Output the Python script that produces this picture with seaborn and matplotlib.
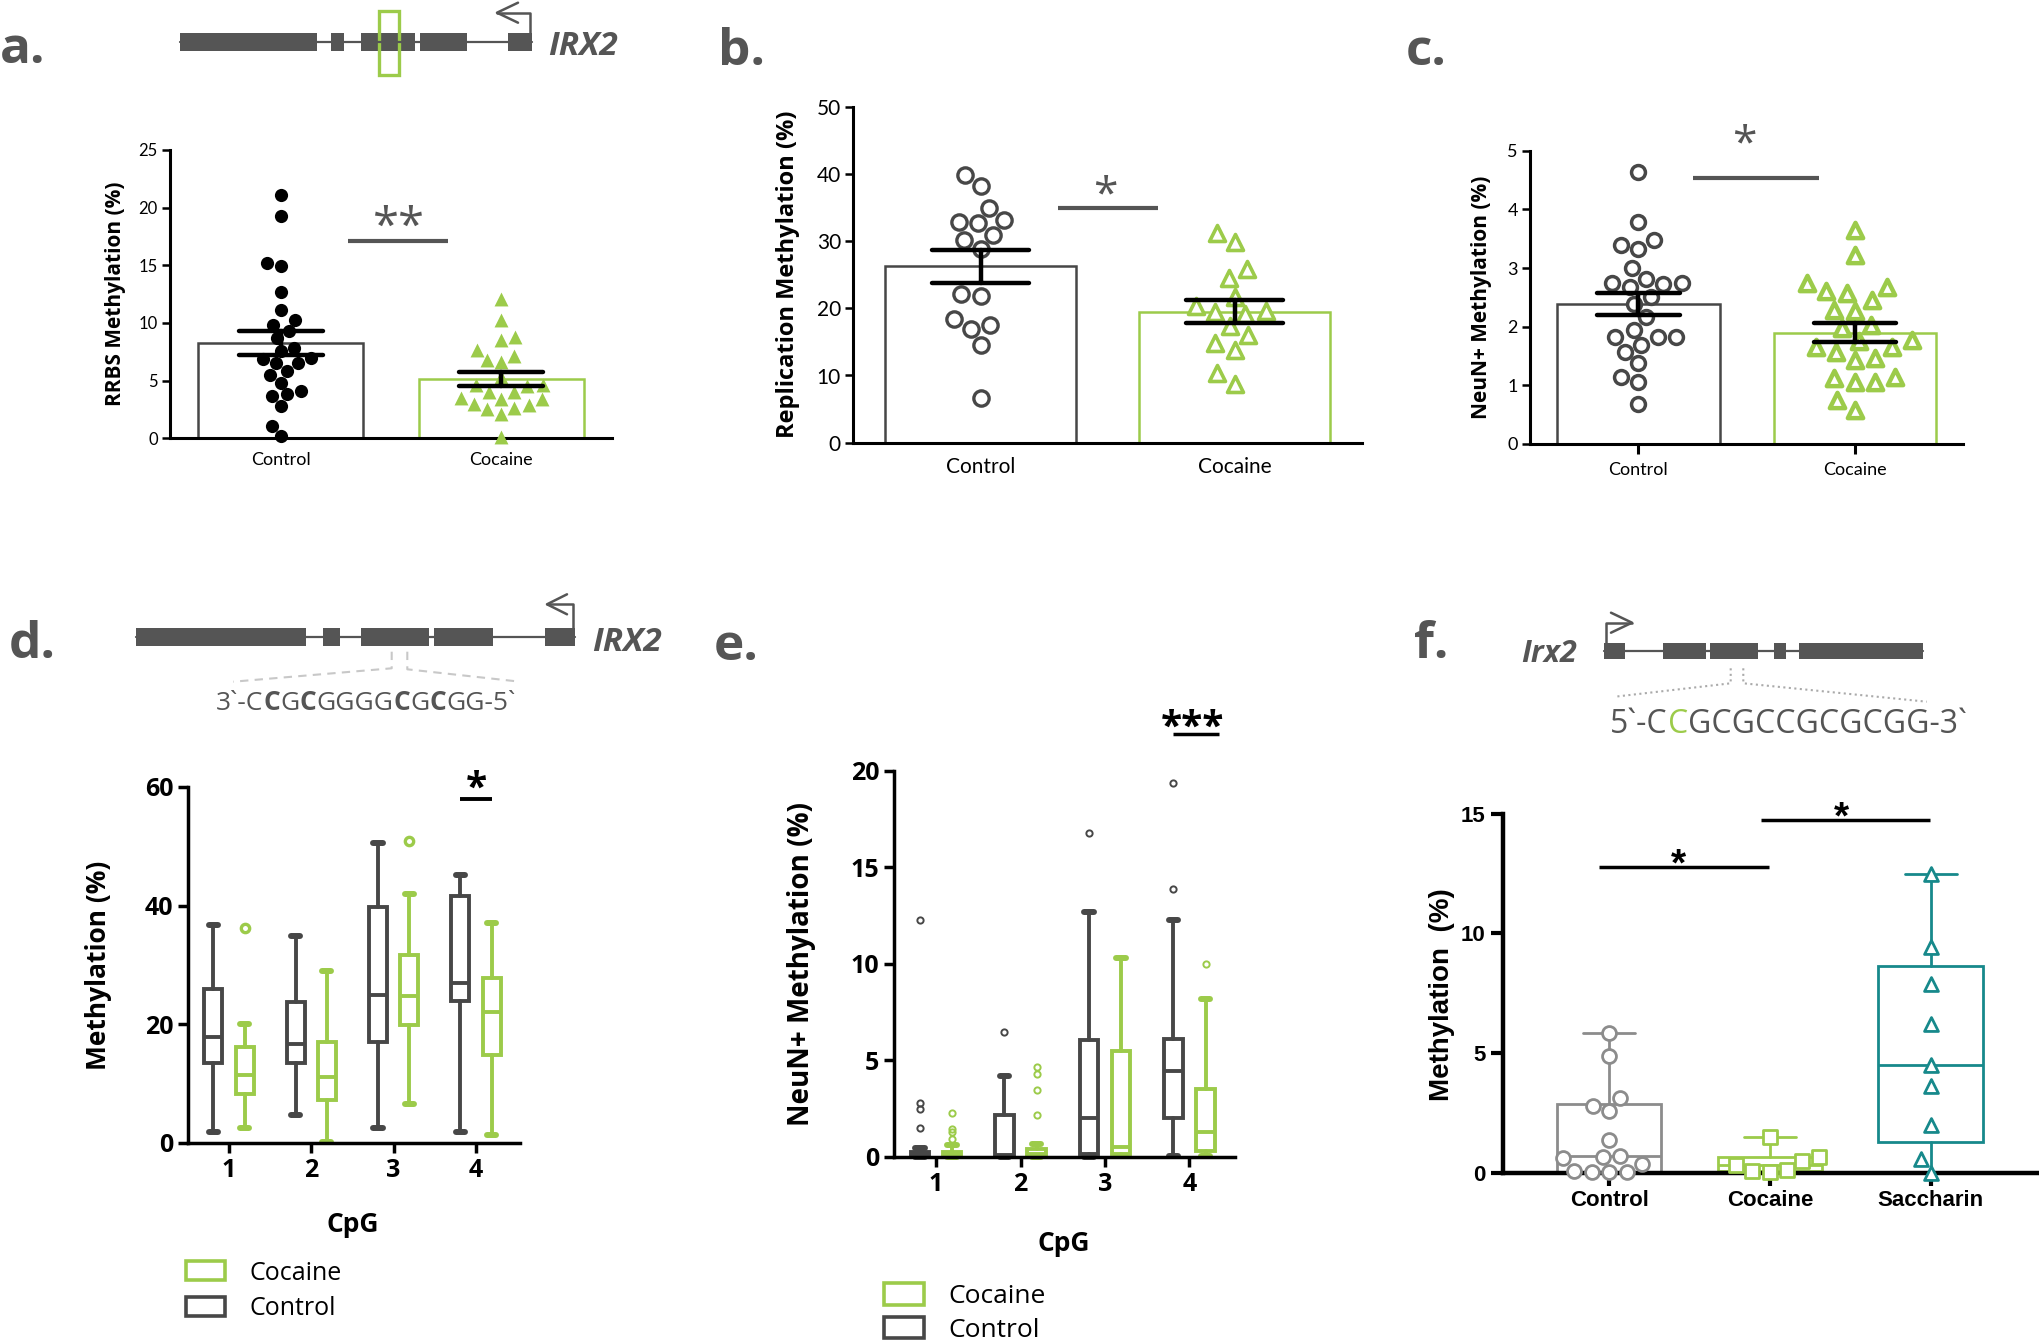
"""
IRX2 methylation figure, panels a-f, redrawn with seaborn
"""

import numpy as np
import pandas as pd
import seaborn as sns
import matplotlib.pyplot as plt
from matplotlib.patches import Rectangle, Patch
from matplotlib.transforms import offset_copy

# ---------------- data ----------------
groups = ["Control", "Cocaine"]

# a. RRBS methylation (%)
rrbs_control = [21.1, 19.3, 15.2, 14.9, 12.7, 11.1, 10.3, 9.8, 9.3, 8.7, 7.8, 7.6, 7.0,
                6.9, 6.5, 6.5, 5.8, 5.5, 4.8, 4.1, 3.8, 3.7, 2.8, 1.1, 0.2]
rrbs_cocaine = [12.1, 10.3, 8.8, 8.5, 7.7, 7.1, 6.8, 6.6, 5.3, 4.6, 4.5, 4.6, 4.0, 4.0,
                3.5, 3.4, 3.4, 2.9, 3.0, 2.6, 2.5, 2.1, 0.1]

# b. replication methylation (%)
rep_control = [39.8, 38.2, 35.0, 32.9, 32.7, 33.2, 30.9, 30.2, 28.8, 21.8, 22.2, 18.4,
               17.5, 16.9, 14.5, 6.6]
rep_cocaine = [31.2, 29.8, 25.9, 24.5, 21.7, 20.3, 19.6, 19.4, 19.2, 17.3, 16.0, 14.8,
               13.8, 10.3, 8.7]

# c. NeuN+ methylation (%)
neun_control = [4.63, 3.79, 3.48, 3.39, 3.32, 3.00, 2.82, 2.75, 2.74, 2.72, 2.68, 2.51,
                2.39, 2.17, 1.95, 1.83, 1.82, 1.82, 1.68, 1.57, 1.38, 1.15, 1.06, 0.68]
neun_cocaine = [3.65, 3.23, 2.74, 2.68, 2.60, 2.57, 2.45, 2.28, 2.26, 2.03, 1.97, 1.77,
                1.76, 1.66, 1.66, 1.57, 1.46, 1.43, 1.12, 1.15, 1.06, 1.05, 0.75, 0.58]

# d./e. box summaries per CpG: [low whisker, Q1, median, Q3, high whisker]
cpg_sites = [1, 2, 3, 4]
d_control_box = [[1.8, 13.5, 17.8, 26.0, 36.8], [4.8, 13.4, 16.7, 23.8, 34.8],
                 [2.5, 17.0, 25.0, 39.7, 50.6], [1.8, 23.9, 27.0, 41.6, 45.1]]
d_cocaine_box = [[2.6, 8.2, 11.4, 16.1, 20.1], [0.2, 7.3, 11.2, 17.0, 29.0],
                 [6.5, 19.8, 24.8, 31.6, 42.0], [1.4, 14.9, 22.0, 27.8, 37.0]]
d_control_out = [[], [], [], []]
d_cocaine_out = [[36.2], [], [50.8], []]

e_control_box = [[0.0, 0.02, 0.08, 0.25, 0.45], [0.0, 0.05, 0.1, 2.2, 4.2],
                 [0.0, 0.15, 2.0, 6.05, 12.7], [0.05, 2.0, 4.45, 6.1, 12.3]]
e_cocaine_box = [[0.0, 0.02, 0.1, 0.28, 0.6], [0.0, 0.05, 0.15, 0.4, 0.65],
                 [0.05, 0.18, 0.5, 5.5, 10.3], [0.05, 0.3, 1.3, 3.5, 8.2]]
e_control_out = [[12.3, 2.8, 2.5, 1.5], [6.5], [16.8], [19.35, 13.9]]
e_cocaine_out = [[2.3, 1.45, 1.3, 0.95], [4.65, 4.3, 3.45, 2.15], [], [10.0]]

# f. mouse Irx2 methylation (%)
f_groups = ["Control", "Cocaine", "Saccharin"]
f_control = [5.85, 4.88, 3.11, 2.8, 2.56, 1.38, 0.71, 0.67, 0.61, 0.37, 0.06, 0.02, 0.02, 0.02]
f_cocaine = [1.5, 0.65, 0.5, 0.32, 0.12, 0.07, 0.05]
f_saccharin = [12.46, 9.41, 7.89, 6.22, 4.49, 3.62, 1.99, 0.57, 0.0]

# ---------------- style ----------------
CTRL = "#474747"
DARK = "#555555"
GREEN = "#9ccb4a"
LGRAY = "#8c8c8c"
TEAL = "#17898b"

sns.set_theme(style="ticks")
plt.rcParams["font.family"] = ["Open Sans", "DejaVu Sans"]
for key in ["axes.edgecolor", "xtick.color", "ytick.color", "text.color", "axes.labelcolor"]:
    plt.rcParams[key] = "black"

W, H = 2040, 1343
fig = plt.figure(figsize=(W / 100, H / 100), dpi=100)


def px_axes(x0, y_top, x1, y_bottom):
    """Axes placed by pixel box (origin top-left)"""
    ax = fig.add_axes([x0 / W, 1 - y_bottom / H, (x1 - x0) / W, (y_bottom - y_top) / H])
    ax.set_facecolor("none")
    return ax


def sig(ax, x0, x1, y_line, x_star, y_star, text, size, color, family="Open Sans",
        weight="normal", lw=2.8):
    ax.plot([x0, x1], [y_line, y_line], color=color, lw=lw, clip_on=False,
            solid_capstyle="butt")
    tr = offset_copy(ax.transData, fig=fig, y=-0.58 * size, units="points")
    ax.text(x_star, y_star, text, transform=tr, ha="center", va="baseline",
            fontsize=size, color=color, family=family, fontweight=weight)


def bar_panel(ax, ctrl, coc, ctrl_kw, coc_kw, ymax, ystep, ytick_size, xtick_size):
    df = pd.DataFrame({"group": ["Control"] * len(ctrl) + ["Cocaine"] * len(coc),
                       "value": ctrl + coc})
    sns.barplot(data=df, x="group", y="value", hue="group", order=groups, hue_order=groups,
                palette={"Control": CTRL, "Cocaine": GREEN}, fill=False, linewidth=1.8,
                width=0.75, errorbar="se", capsize=0.38,
                err_kws={"color": "black", "linewidth": 3.2}, legend=False, ax=ax)
    for patch, col in zip(ax.patches, [CTRL, GREEN]):
        patch.set_edgecolor(col)
        patch.set_facecolor("none")
        patch.set_linewidth(1.8)
    sns.swarmplot(x=["Control"] * len(ctrl), y=ctrl, order=groups, ax=ax, **ctrl_kw)
    sns.swarmplot(x=["Cocaine"] * len(coc), y=coc, order=groups, ax=ax, **coc_kw)
    for coll in ax.collections:
        coll.set_zorder(3)
        coll.set_clip_on(False)
    for line in ax.lines:
        line.set_zorder(4)
    ax.set_xlim(-0.5, 1.5)
    ax.set_ylim(0, ymax)
    ticks = np.arange(0, ymax + ystep / 2, ystep)
    ax.set_yticks(ticks, labels=[f"{t:g}" for t in ticks], fontsize=ytick_size, family="Lato")
    ax.set_xticks([0, 1], labels=groups, fontsize=xtick_size, family="Lato")
    ax.set_xlabel("")
    sns.despine(ax=ax)
    for sp in ("left", "bottom"):
        ax.spines[sp].set_linewidth(2.2)
    ax.tick_params(axis="y", length=6, width=1.8, pad=3)


def box_panel(ax, ctrl_box, coc_box, ctrl_out, coc_out, lw, flier_size, flier_lw):
    for boxes, outs, shift, col in ((ctrl_box, ctrl_out, -0.19, CTRL),
                                    (coc_box, coc_out, 0.19, GREEN)):
        stats = [dict(whislo=b[0], q1=b[1], med=b[2], q3=b[3], whishi=b[4], fliers=o)
                 for b, o in zip(boxes, outs)]
        ax.bxp(stats, positions=[c + shift for c in cpg_sites], widths=0.22,
               patch_artist=True, manage_ticks=False,
               boxprops=dict(facecolor="white", edgecolor=col, linewidth=lw),
               whiskerprops=dict(color=col, linewidth=lw),
               capprops=dict(color=col, linewidth=lw + 1.5),
               medianprops=dict(color=col, linewidth=lw),
               flierprops=dict(marker="o", markerfacecolor="none", markeredgecolor=col,
                               markersize=flier_size, markeredgewidth=flier_lw))
    for art in ax.lines + ax.patches:
        art.set_clip_on(False)
    ax.set_xlim(0.5, 4.54)
    sns.despine(ax=ax)
    for sp in ("left", "bottom"):
        ax.spines[sp].set_linewidth(2.5)
    ax.tick_params(length=7, width=2.5)


# ---------------- a ----------------
ax_a = px_axes(170.4, 150, 611.5, 438.3)
bar_panel(ax_a, rrbs_control, rrbs_cocaine,
          dict(color="black", marker="o", size=9.5, linewidth=0),
          dict(color=GREEN, marker="^", size=10, linewidth=0),
          25, 5, 12, 13)
ax_a.tick_params(axis="x", length=0, pad=10)
ax_a.set_ylabel("RRBS Methylation (%)", fontsize=15, fontweight="bold")
ax_a.yaxis.set_label_coords(-0.101, 0.5)
sig(ax_a, 0.307, 0.760, 17.1, 0.535, 19.5, "**", 34, "#555555", lw=3)

# ---------------- b ----------------
ax_b = px_axes(853.5, 106.7, 1361.7, 442.7)
bar_panel(ax_b, rep_control, rep_cocaine,
          dict(color="white", marker="o", size=11, edgecolor=CTRL, linewidth=2.4),
          dict(color="white", marker="^", size=11.5, edgecolor=GREEN, linewidth=2.6),
          50, 10, 15, 15)
ax_b.tick_params(axis="x", length=0, pad=10)
ax_b.set_ylabel("Replication Methylation (%)", fontsize=17, fontweight="bold")
ax_b.yaxis.set_label_coords(-0.105, 0.5)
sig(ax_b, 0.306, 0.699, 34.9, 0.491, 38.9, "*", 32, "#555555", lw=3)

# ---------------- c ----------------
ax_c = px_axes(1530.4, 150.7, 1962.8, 444)
bar_panel(ax_c, neun_control, neun_cocaine,
          dict(color="white", marker="o", size=10, edgecolor=CTRL, linewidth=2.5),
          dict(color="white", marker="^", size=11, edgecolor=GREEN, linewidth=3.2),
          5, 1, 13, 13)
ax_c.tick_params(axis="x", length=7, width=2.2, pad=6)
ax_c.set_ylabel("NeuN+ Methylation (%)", fontsize=15, fontweight="bold")
ax_c.yaxis.set_label_coords(-0.089, 0.5)
sig(ax_c, 0.253, 0.835, 4.53, 0.488, 5.35, "*", 32, "#555555", lw=3)

# ---------------- d ----------------
ax_d = px_axes(187.8, 786.8, 520.4, 1143)
box_panel(ax_d, d_control_box, d_cocaine_box, d_control_out, d_cocaine_out, 2.8, 6, 2.4)
ax_d.set_ylim(0, 60)
ax_d.set_yticks([0, 20, 40, 60], labels=["0", "20", "40", "60"], fontsize=18, fontweight="bold")
ax_d.set_xticks(cpg_sites, labels=[str(c) for c in cpg_sites], fontsize=18, fontweight="bold")
ax_d.set_ylabel("Methylation (%)", fontsize=19, fontweight="bold")
ax_d.yaxis.set_label_coords(-0.228, 0.5)
ax_d.set_xlabel("CpG", fontsize=19, fontweight="bold")
ax_d.xaxis.set_label_coords(0.496, -0.19)
sig(ax_d, 3.805, 4.189, 58.0, 4.0, 61.6, "*", 28, "black", weight="bold")

# ---------------- e ----------------
ax_e = px_axes(893.8, 770.9, 1235.1, 1157)
box_panel(ax_e, e_control_box, e_cocaine_box, e_control_out, e_cocaine_out, 2.8, 4.5, 1.4)
ax_e.set_ylim(0, 20)
ax_e.set_yticks([0, 5, 10, 15, 20], labels=["0", "5", "10", "15", "20"], fontsize=18,
                fontweight="bold")
ax_e.set_xticks(cpg_sites, labels=[str(c) for c in cpg_sites], fontsize=18, fontweight="bold")
ax_e.set_ylabel("NeuN+ Methylation (%)", fontsize=20, fontweight="bold")
ax_e.yaxis.set_label_coords(-0.228, 0.5)
ax_e.set_xlabel("CpG", fontsize=19, fontweight="bold")
ax_e.xaxis.set_label_coords(0.498, -0.19)
sig(ax_e, 3.81, 4.35, 21.9, 4.04, 22.85, "***", 28, "black", weight="bold", lw=2.5)

# ---------------- f ----------------
ax_f = px_axes(1503.1, 813.6, 2040, 1172.7)
f_values = [f_control, f_cocaine, f_saccharin]
f_colors = [LGRAY, GREEN, TEAL]
f_markers = ["o", "s", "^"]
for i, (vals, col) in enumerate(zip(f_values, f_colors)):
    q1, med, q3 = np.percentile(vals, [25, 50, 75], method="weibull")
    stats = [dict(whislo=min(vals), q1=q1, med=med, q3=q3, whishi=max(vals), fliers=[])]
    ax_f.bxp(stats, positions=[i], widths=0.65, patch_artist=True, manage_ticks=False,
             boxprops=dict(facecolor="none", edgecolor=col, linewidth=2),
             whiskerprops=dict(color=col, linewidth=2),
             capprops=dict(color=col, linewidth=2),
             medianprops=dict(color=col, linewidth=2))
for vals, col, mk, name in zip(f_values, f_colors, f_markers, f_groups):
    sns.swarmplot(x=[name] * len(vals), y=vals, order=f_groups, ax=ax_f, marker=mk,
                  color="white", edgecolor=col, linewidth=2, size=10)
for coll in ax_f.collections:
    coll.set_zorder(3)
    coll.set_clip_on(False)
ax_f.set_xlim(-0.66, 2.68)
ax_f.set_ylim(0, 15)
ax_f.set_yticks([0, 5, 10, 15], labels=["0", "5", "10", "15"], fontsize=16,
                fontweight="bold", family="Liberation Sans")
ax_f.set_xticks([0, 1, 2], labels=f_groups, fontsize=16, fontweight="bold",
                family="Liberation Sans")
ax_f.set_xlabel("")
ax_f.set_ylabel("Methylation  (%)", fontsize=20, fontweight="bold", family="Liberation Sans")
ax_f.yaxis.set_label_coords(-0.0896, 0.495)
sns.despine(ax=ax_f)
for sp in ("left", "bottom"):
    ax_f.spines[sp].set_linewidth(3.2)
ax_f.tick_params(length=9, width=3)
sig(ax_f, -0.062, 0.995, 12.76, 0.43, 13.37, "*", 28, "black", family="Liberation Sans",
    weight="bold", lw=2.5)
sig(ax_f, 0.946, 1.995, 14.74, 1.446, 15.3, "*", 28, "black", family="Liberation Sans",
    weight="bold", lw=2.5)

# ---------------- legends (d, e) ----------------
for (x, y, fs, hl, hh, pad, sp) in [(186.5, 1260.5, 18, 1.56, 0.78, 0.96, 0.42),
                                     (883.8, 1283.1, 19, 1.51, 0.88, 0.95, 0.29)]:
    handles = [Patch(facecolor="white", edgecolor=GREEN, linewidth=2.6, label="Cocaine"),
               Patch(facecolor="white", edgecolor=CTRL, linewidth=2.6, label="Control")]
    fig.legend(handles=handles, loc="upper left", bbox_to_anchor=(x / W, 1 - y / H),
               frameon=False, fontsize=fs, handlelength=hl, handleheight=hh,
               handletextpad=pad, labelspacing=sp, borderpad=0, borderaxespad=0)

# ---------------- gene schematics and panel letters (pixel space) ----------------
deco = fig.add_axes([0, 0, 1, 1], zorder=10)
deco.set_xlim(0, W)
deco.set_ylim(H, 0)
deco.axis("off")


def gene(exons, y0, y1):
    yc = (y0 + y1) / 2
    deco.plot([exons[0][0], exons[-1][1]], [yc, yc], color=DARK, lw=1.6)
    for x0, x1 in exons:
        deco.add_patch(Rectangle((x0, y0), x1 - x0, y1 - y0, facecolor=DARK, edgecolor="none"))


def tss_arrow(x_stem, y_base, y_top, x_tip, arm_dx):
    deco.plot([x_stem, x_stem, x_tip], [y_base, y_top, y_top], color=DARK, lw=1.8)
    deco.plot([x_tip + arm_dx, x_tip, x_tip + arm_dx], [y_top - 10, y_top, y_top + 10],
              color=DARK, lw=1.8)


def seq_text(x, y, parts, size):
    t = None
    for s, weight, col in parts:
        if t is None:
            t = deco.text(x, y, s, fontsize=size, fontweight=weight, color=col,
                          va="baseline", ha="left")
        else:
            t = deco.annotate(s, xy=(1, 0), xycoords=t, va="bottom", ha="left",
                              fontsize=size, fontweight=weight, color=col)


# a. human IRX2
gene([(180, 316.7), (331, 344.3), (361, 415), (420, 466.7), (508.3, 531.7)], 33.3, 50.7)
tss_arrow(530.5, 33.3, 12.7, 497, 21)
deco.add_patch(Rectangle((378.7, 11.3), 20, 63.4, facecolor="none", edgecolor=GREEN, lw=2.4))
deco.text(548, 55, "IRX2", fontsize=24, style="italic", fontweight="bold", color=DARK,
          va="baseline")

# d. human IRX2 with amplicon sequence
gene([(136, 305.7), (323.3, 340), (361, 429), (434.3, 493.3), (545, 574.6)], 628.3, 646)
tss_arrow(573, 628.3, 604.3, 547, 20)
deco.text(592, 650.6, "IRX2", fontsize=24, style="italic", fontweight="bold", color=DARK,
          va="baseline")
deco.plot([391.7, 391.7, 233.3], [651.7, 668.3, 681.7], color="#c8c8c8", lw=1.5, ls=(0, (4, 3)))
deco.plot([407.3, 407.3, 520], [651.7, 669.3, 681.7], color="#c8c8c8", lw=1.5, ls=(0, (4, 3)))
seq_text(216, 710, [("3`-C", "normal", DARK), ("C", "bold", DARK), ("G", "normal", DARK),
                    ("C", "bold", DARK), ("GGGG", "normal", DARK), ("C", "bold", DARK),
                    ("G", "normal", DARK), ("C", "bold", DARK), ("GG-5`", "normal", DARK)], 19)

# f. mouse Irx2
gene([(1604.3, 1625), (1662.7, 1705.7), (1710, 1758.3), (1774.3, 1786), (1799.3, 1923.3)],
     643.3, 659.3)
tss_arrow(1606, 643.3, 622.7, 1632, -21)
deco.text(1521, 661.7, "Irx2", fontsize=22, style="italic", fontweight="bold", color=DARK,
          va="baseline")
deco.plot([1730.7, 1730.7, 1615], [668.3, 683.3, 696.7], color="#aaaaaa", lw=1.5, ls=":")
deco.plot([1743.3, 1743.3, 1926.7], [668.3, 683.3, 701.7], color="#aaaaaa", lw=1.5, ls=":")
seq_text(1610, 733, [("5`-C", "normal", DARK), ("C", "normal", GREEN),
                     ("GCGCCGCGCGG-3`", "normal", DARK)], 23)

# panel letters
for letter, x, y in [("a.", 0, 63), ("b.", 718, 65), ("c.", 1406, 65),
                     ("d.", 9, 658), ("e.", 714, 660), ("f.", 1414, 658)]:
    deco.text(x, y, letter, fontsize=37, fontweight="bold", color=DARK, va="baseline")

fig.savefig("out.png", dpi=100)
